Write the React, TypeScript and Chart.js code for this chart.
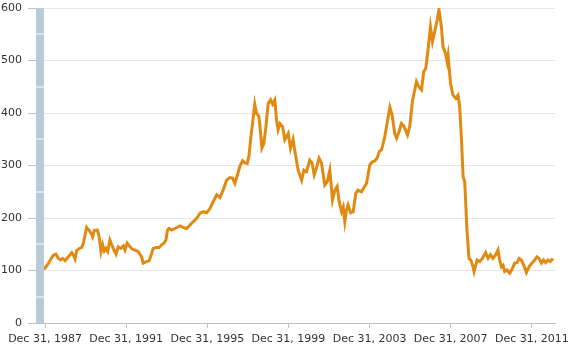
import React, { useEffect, useRef } from "react";
import { Chart, registerables } from "chart.js";

Chart.register(...registerables);

const years = [
  1987.95, 1988.11, 1988.41, 1988.54, 1988.66, 1988.77, 1988.87, 1988.99, 1989.15, 1989.32,
  1989.39, 1989.48, 1989.56, 1989.69, 1989.81, 1989.89, 1990.05, 1990.18, 1990.27, 1990.35,
  1990.43, 1990.58, 1990.67, 1990.76, 1990.84, 1990.92, 1991.0, 1991.09, 1991.2, 1991.29,
  1991.4, 1991.5, 1991.61, 1991.73, 1991.86, 1991.94, 1992.05, 1992.19, 1992.32, 1992.43,
  1992.6, 1992.76, 1992.84, 1993.01, 1993.14, 1993.26, 1993.33, 1993.5, 1993.63, 1993.75,
  1993.86, 1993.96, 1994.04, 1994.12, 1994.24, 1994.4, 1994.65, 1994.81, 1994.98, 1995.23,
  1995.47, 1995.64, 1995.8, 1995.97, 1996.13, 1996.29, 1996.46, 1996.62, 1996.78, 1996.95,
  1997.11, 1997.25, 1997.36, 1997.47, 1997.61, 1997.74, 1997.85, 1997.97, 1998.06, 1998.15,
  1998.23, 1998.34, 1998.43, 1998.54, 1998.63, 1998.69, 1998.79, 1998.89, 1999.0, 1999.12,
  1999.22, 1999.33, 1999.41, 1999.49, 1999.58, 1999.71, 1999.82, 1999.99, 2000.1, 2000.23,
  2000.32, 2000.48, 2000.65, 2000.76, 2000.89, 2001.05, 2001.17, 2001.27, 2001.38, 2001.51,
  2001.63, 2001.79, 2001.91, 2002.04, 2002.17, 2002.29, 2002.4, 2002.5, 2002.62, 2002.7,
  2002.78, 2002.86, 2002.94, 2003.06, 2003.19, 2003.32, 2003.43, 2003.6, 2003.71, 2003.85,
  2004.01, 2004.14, 2004.26, 2004.37, 2004.47, 2004.59, 2004.75, 2004.86, 2005.0, 2005.11,
  2005.24, 2005.33, 2005.45, 2005.57, 2005.69, 2005.87, 2005.98, 2006.11, 2006.31, 2006.44,
  2006.56, 2006.67, 2006.77, 2006.88, 2007.0, 2007.1, 2007.21, 2007.33, 2007.42, 2007.54,
  2007.62, 2007.74, 2007.82, 2007.87, 2007.99, 2008.11, 2008.25, 2008.36, 2008.44, 2008.53,
  2008.61, 2008.69, 2008.8, 2008.9, 2008.99, 2009.1, 2009.15, 2009.3, 2009.43, 2009.56,
  2009.72, 2009.84, 2009.96, 2010.08, 2010.22, 2010.33, 2010.41, 2010.5, 2010.58, 2010.66,
  2010.77, 2010.91, 2011.04, 2011.15, 2011.27, 2011.37, 2011.48, 2011.6, 2011.73, 2011.86,
  2012.02, 2012.14, 2012.25, 2012.35, 2012.47, 2012.58, 2012.68, 2012.79, 2012.91, 2013.04,
];

const values = [
  102, 110, 129, 131, 123, 120, 123, 119, 126, 134,
  130, 122, 138, 142, 144, 152, 182, 176, 171, 164,
  176, 177, 164, 136, 149, 137, 142, 136, 158, 149,
  139, 131, 145, 142, 147, 139, 152, 145, 140, 139,
  136, 126, 114, 117, 119, 133, 142, 144, 144, 149,
  152, 158, 177, 180, 177, 180, 185, 182, 180, 190,
  199, 209, 212, 210, 218, 231, 244, 239, 253, 272,
  277, 276, 266, 280, 299, 309, 305, 304, 320, 355,
  380, 417, 399, 394, 361, 333, 342, 374, 418, 425,
  417, 425, 387, 368, 380, 374, 349, 361, 333, 350,
  326, 291, 272, 291, 288, 310, 304, 282, 295, 314,
  305, 263, 269, 291, 234, 253, 260, 231, 212, 221,
  193, 215, 225, 210, 212, 247, 253, 250, 257, 266,
  301, 307, 309, 314, 326, 330, 355, 380, 411, 396,
  361, 352, 364, 380, 375, 358, 374, 422, 460, 449,
  444, 479, 485, 520, 564, 536, 555, 577, 597, 564,
  526, 514, 498, 510, 456, 434, 428, 434, 412, 349,
  279, 269, 177, 123, 120, 107, 98, 120, 117, 123,
  134, 123, 130, 123, 130, 139, 120, 107, 110, 98,
  101, 95, 104, 114, 115, 123, 120, 110, 96, 107,
  115, 120, 126, 123, 114, 120, 115, 120, 117, 123,
];

const tickYears = [1987, 1991, 1995, 1999, 2003, 2007, 2011];
const yTicks = [0, 100, 200, 300, 400, 500, 600];
const bandMarks = [50, 150, 250, 350, 450, 550];

const sideBar = {
  id: "sideBar",
  beforeDatasetsDraw(chart: any) {
    const { ctx, chartArea, scales } = chart;
    const y = scales.y;
    const top = y.getPixelForValue(yTicks[yTicks.length - 1]);
    const bottom = y.getPixelForValue(yTicks[0]);
    ctx.save();
    ctx.fillStyle = "#b9cadb";
    ctx.fillRect(chartArea.left - 8, top, 8, bottom - top);
    ctx.fillStyle = "#ffffff";
    bandMarks.forEach((v) => {
      const py = Math.round(y.getPixelForValue(v));
      ctx.fillRect(chartArea.left - 8, py - 0.5, 8, 1);
    });
    ctx.restore();
  },
};

export default function App() {
  const ref = useRef<HTMLCanvasElement>(null);
  useEffect(() => {
    if (!ref.current) return;
    const font = { family: "'DejaVu Sans', Verdana, sans-serif", size: 11 };
    const chart = new Chart(ref.current, {
      type: "line",
      data: {
        datasets: [
          {
            data: years.map((x, i) => ({ x, y: values[i] })),
            borderColor: "#e08a12",
            borderWidth: 3,
            pointRadius: 0,
            tension: 0,
            fill: false,
          },
        ],
      },
      options: {
        responsive: false,
        animation: false,
        devicePixelRatio: 1,
        layout: { padding: { top: 8, right: 18, left: 0, bottom: 0 } },
        plugins: { legend: { display: false }, tooltip: { enabled: false } },
        scales: {
          x: {
            type: "linear",
            min: 1987.95,
            max: 2013.14,
            afterBuildTicks: (s: any) => {
              s.ticks = tickYears.map((yr) => ({ value: yr + 1 }));
            },
            afterFit: (s: any) => {
              s.height = 29;
              s.paddingLeft = 0;
              s.paddingRight = 0;
            },
            ticks: {
              font,
              color: "#333333",
              padding: 5,
              maxRotation: 0,
              autoSkip: false,
              callback: (v: any) => "Dec 31, " + (Math.round(v) - 1),
            },
            grid: { drawOnChartArea: false, tickLength: 5, tickColor: "#c0c0c0" },
            border: { color: "#c0c0c0", width: 1 },
          },
          y: {
            min: 0,
            max: 600,
            afterBuildTicks: (s: any) => {
              s.ticks = yTicks.map((v) => ({ value: v }));
            },
            afterFit: (s: any) => {
              s.width = 44;
              s.paddingTop = 0;
              s.paddingBottom = 0;
            },
            ticks: { font, color: "#333333", padding: 6 },
            grid: { color: "#e6e6e6", tickLength: 16, tickColor: "#c0c0c0", lineWidth: 1 },
            border: { display: false },
          },
        },
      },
      plugins: [sideBar],
    });
    return () => chart.destroy();
  }, []);
  return (
    <div style={{ position: "fixed", left: 0, top: 0, width: 573, height: 352, background: "#fff" }}>
      <canvas ref={ref} width={573} height={352} style={{ display: "block" }} />
    </div>
  );
}
